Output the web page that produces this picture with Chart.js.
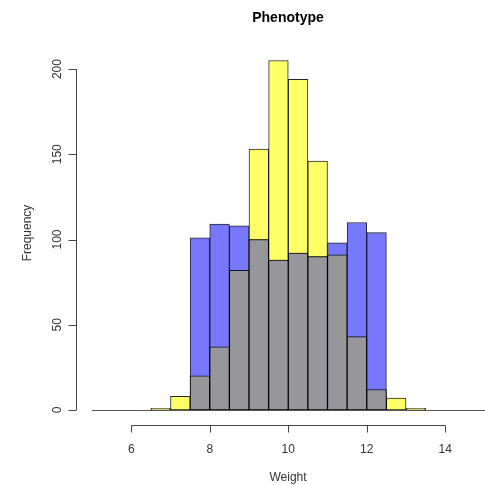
<!DOCTYPE html>
<html lang="en">
<head>
    <meta charset="UTF-8">
    <title>Phenotype</title>
    <script src="https://cdn.jsdelivr.net/npm/chart.js@4/dist/chart.umd.min.js"></script>
    <style>
        html, body { margin: 0; padding: 0; background: #fff; }
        #wrap { width: 485px; height: 485px; }
    </style>
</head>
<body>
    <div id="wrap"><canvas id="histChart" width="485" height="485"></canvas></div>

    <script>
        // bin centres (bins of width 0.5 from 6.5 to 13.5)
        const binCenters = [6.75, 7.25, 7.75, 8.25, 8.75, 9.25, 9.75, 10.25, 10.75, 11.25, 11.75, 12.25, 12.75, 13.25];
        const normalCounts = [1, 8, 20, 37, 82, 153, 205, 194, 146, 91, 43, 12, 7, 1];
        const uniformCounts = [0, 0, 101, 109, 108, 100, 88, 92, 90, 98, 110, 104, 0, 0];
        const xTicks = [6, 8, 10, 12, 14];
        const yTicks = [0, 50, 100, 150, 200];

        // overlap of the two histograms is drawn in grey
        const overlapCounts = normalCounts.map((v, i) => Math.min(v, uniformCounts[i]));

        const toPoints = arr => arr.map((v, i) => ({ x: binCenters[i], y: v }));

        const textColor = '#333';
        const lineColor = '#444';
        const font = '12px "Liberation Sans", Arial, sans-serif';

        const rAxes = {
            id: 'rAxes',
            beforeDatasetsDraw(chart) {
                const ctx = chart.ctx;
                const x = chart.scales.x, y = chart.scales.y;
                ctx.save();
                ctx.strokeStyle = '#555';
                ctx.lineWidth = 1;
                ctx.beginPath();
                ctx.moveTo(x.getPixelForValue(5), Math.round(y.getPixelForValue(0)) + 0.5);
                ctx.lineTo(chart.width, Math.round(y.getPixelForValue(0)) + 0.5);
                ctx.stroke();
                ctx.restore();
            },
            afterDraw(chart) {
                const ctx = chart.ctx;
                const x = chart.scales.x, y = chart.scales.y;
                ctx.save();
                ctx.strokeStyle = lineColor;
                ctx.fillStyle = textColor;
                ctx.lineWidth = 1;
                ctx.font = font;

                // y axis
                const ax = 76.5;
                ctx.beginPath();
                ctx.moveTo(ax, y.getPixelForValue(yTicks[0]));
                ctx.lineTo(ax, y.getPixelForValue(yTicks[yTicks.length - 1]));
                yTicks.forEach(t => {
                    const py = Math.round(y.getPixelForValue(t)) + 0.5;
                    ctx.moveTo(ax, py);
                    ctx.lineTo(ax - 8, py);
                });
                ctx.stroke();
                yTicks.forEach(t => {
                    ctx.save();
                    ctx.translate(58, y.getPixelForValue(t));
                    ctx.rotate(-Math.PI / 2);
                    ctx.textAlign = 'center';
                    ctx.textBaseline = 'middle';
                    ctx.fillText(String(t), 0, 0);
                    ctx.restore();
                });

                // x axis
                const ay = 425.5;
                ctx.beginPath();
                ctx.moveTo(x.getPixelForValue(xTicks[0]), ay);
                ctx.lineTo(x.getPixelForValue(xTicks[xTicks.length - 1]), ay);
                xTicks.forEach(t => {
                    const px = Math.round(x.getPixelForValue(t)) + 0.5;
                    ctx.moveTo(px, ay);
                    ctx.lineTo(px, ay + 7);
                });
                ctx.stroke();
                ctx.textAlign = 'center';
                ctx.textBaseline = 'middle';
                xTicks.forEach(t => {
                    ctx.fillText(String(t), x.getPixelForValue(t), 450);
                });

                // axis titles and main title
                ctx.fillText('Weight', 288, 478);
                ctx.save();
                ctx.translate(28, 233);
                ctx.rotate(-Math.PI / 2);
                ctx.fillText('Frequency', 0, 0);
                ctx.restore();
                ctx.fillStyle = '#000';
                ctx.font = 'bold 14px "Liberation Sans", Arial, sans-serif';
                ctx.fillText('Phenotype', 288, 18);
                ctx.restore();
            }
        };

        const ctx = document.getElementById('histChart').getContext('2d');
        new Chart(ctx, {
            type: 'bar',
            data: {
                datasets: [{
                    label: 'Overlap',
                    data: toPoints(overlapCounts),
                    backgroundColor: '#96969b',
                    order: 0
                }, {
                    label: 'Uniform',
                    data: toPoints(uniformCounts),
                    backgroundColor: '#7878ff',
                    order: 1
                }, {
                    label: 'Normal',
                    data: toPoints(normalCounts),
                    backgroundColor: '#ffff66',
                    order: 2
                }]
            },
            options: {
                responsive: false,
                animation: false,
                layout: { padding: { left: 92, right: 0.5, top: 52, bottom: 75 } },
                datasets: {
                    bar: {
                        grouped: false,
                        barPercentage: 1,
                        categoryPercentage: 1,
                        borderColor: 'rgba(0,0,0,0.85)',
                        borderWidth: 1,
                        borderSkipped: false
                    }
                },
                scales: {
                    x: { type: 'linear', min: 5, max: 15, offset: false, display: false },
                    y: { min: 0, max: 210, display: false }
                },
                plugins: {
                    legend: { display: false },
                    tooltip: { enabled: false },
                    title: { display: false }
                }
            },
            plugins: [rAxes]
        });
    </script>
</body>
</html>
